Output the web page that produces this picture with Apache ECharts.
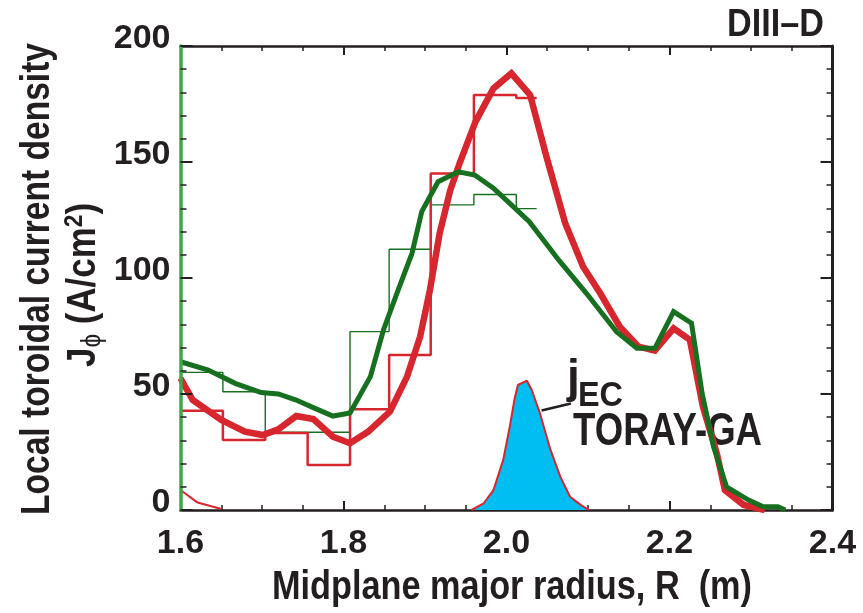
<!DOCTYPE html>
<html>
<head>
<meta charset="utf-8">
<script src="https://cdn.jsdelivr.net/npm/echarts@6/dist/echarts.min.js"></script>
<style>
  html, body { margin: 0; padding: 0; background: #fff; }
  #chart { width: 863px; height: 613px; }
</style>
</head>
<body>
<div id="chart"></div>
<script>
// Midplane major radius R (m) and local toroidal current density (A/cm^2)

// Thick red profile
const redR = [1.600, 1.615, 1.650, 1.679, 1.701, 1.720, 1.742, 1.763, 1.787, 1.808,
  1.830, 1.857, 1.878, 1.894, 1.906, 1.918, 1.931, 1.943, 1.962, 1.984,
  2.006, 2.029, 2.049, 2.072, 2.094, 2.115, 2.139, 2.162, 2.182, 2.205,
  2.225, 2.241, 2.258, 2.268, 2.291, 2.317];
const redJ = [56.8, 47.4, 38.8, 33.8, 32.3, 34.8, 40.5, 39.2, 31.6, 28.8,
  33.7, 42.4, 57.5, 74.7, 94.8, 119.3, 137.9, 150.0, 167.4, 181.7,
  188.2, 178.9, 152.3, 123.6, 104.9, 93.4, 79.0, 70.4, 68.7, 78.3,
  73.3, 44.5, 24.4, 8.6, 2.2, 0.0];

// Thick green profile
const greenR = [1.600, 1.634, 1.667, 1.699, 1.720, 1.742, 1.765, 1.787, 1.808, 1.833,
  1.849, 1.867, 1.884, 1.896, 1.916, 1.941, 1.961, 1.984, 2.004, 2.028,
  2.064, 2.098, 2.135, 2.160, 2.182, 2.205, 2.227, 2.240, 2.254, 2.270,
  2.297, 2.315, 2.333, 2.342];
const greenJ = [63.9, 60.3, 54.6, 50.6, 50.0, 47.4, 43.8, 40.5, 41.8, 57.5,
  77.6, 94.8, 110.6, 128.6, 141.5, 145.8, 144.4, 138.7, 132.2, 124.3,
  107.8, 93.4, 76.8, 69.7, 69.7, 85.5, 80.5, 50.3, 27.3, 10.0,
  4.3, 1.4, 1.4, 0.0];

// Binned (histogram) values, shared bin edges
const binEdges = [1.600, 1.652, 1.704, 1.756, 1.808, 1.856, 1.907, 1.960, 2.012, 2.037];
const redBins = [42.8, 30.2, 33.2, 19.4, 43.4, 66.8, 145.0, 178.9, 177.6];
const greenBins = [59.3, 51.0, 33.5, 33.5, 76.9, 112.4, 131.5, 136.0, 129.9];

// j_EC deposition profile (TORAY-GA)
const ecR = [1.957, 1.972, 1.984, 1.996, 2.004, 2.010, 2.014, 2.025, 2.031, 2.041,
  2.054, 2.066, 2.078, 2.091, 2.101];
const ecJ = [0.0, 2.9, 8.6, 21.6, 35.9, 48.1, 53.9, 55.7, 51.7, 41.7,
  25.9, 14.4, 5.7, 2.2, 0.0];

// Edge trace near the inner boundary
const edgeR = [1.600, 1.621, 1.650];
const edgeJ = [8.6, 3.2, 0.4];

// Axis ticks
const xTicks = [1.6, 1.8, 2.0, 2.2, 2.4];
const yTicks = [0, 50, 100, 150, 200];

const RED = '#d7262e';
const GREEN = '#17701f';
const INK = '#231f20';
const FONT = '"Liberation Sans", Arial, sans-serif';

const pairs = (xs, ys) => xs.map((x, i) => [x, ys[i]]);
const steps = (edges, vals) => {
  const out = [];
  vals.forEach((v, i) => { out.push([edges[i], v]); out.push([edges[i + 1], v]); });
  return out;
};

// Horizontal squeeze factor so a bold sans reads like a condensed face of a given length
const measureCtx = document.createElement('canvas').getContext('2d');
function textWidth(parts) {
  return parts.reduce((w, [t, f]) => { measureCtx.font = f; return w + measureCtx.measureText(t).width; }, 0);
}
const squeeze = (parts, len) => len / textWidth(parts);

const chart = echarts.init(document.getElementById('chart'), null, { renderer: 'canvas' });

const axisLabelX = {
  show: true, margin: 17, color: INK, fontSize: 34, fontWeight: 'bold', fontFamily: FONT,
  formatter: v => xTicks.includes(+v.toFixed(1)) ? v.toFixed(1) : ''
};
const axisLabelY = {
  show: true, margin: 10, color: INK, fontSize: 34, fontWeight: 'bold', fontFamily: FONT,
  verticalAlign: 'bottom', lineHeight: 14,
  formatter: v => yTicks.includes(v) ? String(v) : ''
};
const tickSet = (len, minorLen, split) => ({
  axisTick: { show: true, inside: true, length: len, lineStyle: { color: INK, width: 2 } },
  minorTick: { show: true, splitNumber: split, length: minorLen, lineStyle: { color: INK, width: 1.5 } },
  splitLine: { show: false }
});

const F_NAME = 'bold 40px ' + FONT;
const xName = 'Midplane major radius, R  (m)';
const yName = 'Local toroidal current density';
const jParts = [['J', 'bold 40px ' + FONT], ['\u03d5', '28px ' + FONT], [' (A/cm', 'bold 40px ' + FONT], ['2', 'bold 26px ' + FONT], [')', 'bold 40px ' + FONT]];

chart.setOption({
  animation: false,
  backgroundColor: '#fff',
  grid: { left: 180.5, right: 30.5, top: 46, bottom: 103, containLabel: false },
  xAxis: [
    Object.assign({
      type: 'value', min: 1.6, max: 2.4, interval: 0.2, position: 'bottom',
      axisLine: { show: true, onZero: false, lineStyle: { color: INK, width: 2.5 } },
      axisLabel: axisLabelX
    }, tickSet(9, 5, 4)),
    Object.assign({
      type: 'value', min: 1.6, max: 2.4, interval: 0.2, position: 'top',
      axisLine: { show: true, onZero: false, lineStyle: { color: INK, width: 2.5 } },
      axisLabel: { show: false }
    }, tickSet(9, 5, 4))
  ],
  yAxis: [
    Object.assign({
      type: 'value', min: 0, max: 200, interval: 50, position: 'left', z: 6,
      axisLine: { show: true, onZero: false, lineStyle: { color: '#3fa74a', width: 3.5 } },
      axisLabel: axisLabelY
    }, tickSet(12, 6, 5)),
    Object.assign({
      type: 'value', min: 0, max: 200, interval: 50, position: 'right',
      axisLine: { show: true, onZero: false, lineStyle: { color: INK, width: 3 } },
      axisLabel: { show: false }
    }, tickSet(12, 6, 5))
  ],
  series: [
    {
      name: 'jEC', type: 'line', data: pairs(ecR, ecJ), symbol: 'none', z: 2,
      lineStyle: { color: RED, width: 2 },
      areaStyle: { color: '#00bdf2', opacity: 1 }
    },
    {
      name: 'edge', type: 'line', data: pairs(edgeR, edgeJ), symbol: 'none', z: 3,
      lineStyle: { color: RED, width: 2 },
      // pointer from the TORAY-GA label to the deposition profile
      markLine: {
        silent: true, z: 10, symbol: ['none', 'arrow'], symbolSize: [0, 15],
        lineStyle: { color: INK, width: 2.5, type: 'solid', opacity: 1 },
        itemStyle: { color: INK },
        label: { show: false },
        data: [[{ coord: [2.079, 45.9] }, { coord: [2.043, 42.9] }]]
      }
    },
    {
      name: 'green bins', type: 'line', data: steps(binEdges, greenBins), symbol: 'none', z: 3,
      lineStyle: { color: GREEN, width: 1.4 }
    },
    {
      name: 'red bins', type: 'line', data: steps(binEdges, redBins), symbol: 'none', z: 3,
      lineStyle: { color: RED, width: 2.5 }
    },
    {
      name: 'red', type: 'line', data: pairs(redR, redJ), symbol: 'none', z: 4,
      lineStyle: { color: RED, width: 6.5, join: 'miter' }
    },
    {
      name: 'green', type: 'line', data: pairs(greenR, greenJ), symbol: 'none', z: 5,
      lineStyle: { color: GREEN, width: 5, join: 'miter' }
    }
  ],
  graphic: [
    {
      type: 'text', x: 512, y: 588, scaleX: squeeze([[xName, F_NAME]], 480),
      style: { text: xName, align: 'center', verticalAlign: 'middle', fill: INK, font: F_NAME }
    },
    {
      type: 'text', x: 824, y: 26, scaleX: squeeze([['DIII\u2013D', 'bold 38px ' + FONT]], 97),
      style: { text: 'DIII\u2013D', align: 'right', verticalAlign: 'middle', fill: INK, font: 'bold 38px ' + FONT }
    },
    {
      type: 'text', x: 38, y: 279, rotation: Math.PI / 2, scaleX: squeeze([[yName, F_NAME]], 472),
      style: { text: yName, align: 'center', verticalAlign: 'middle', fill: INK, font: F_NAME }
    },
    {
      type: 'text', x: 84, y: 285, rotation: Math.PI / 2, scaleX: squeeze(jParts, 164),
      style: {
        text: '{j|J}{s|\u03d5}{n| (A/cm}{p|2}{n|)}', align: 'center', verticalAlign: 'middle',
        fill: INK,
        rich: {
          j: { fontSize: 40, fontWeight: 'bold', fontFamily: FONT, fill: INK, lineHeight: 44 },
          s: { fontSize: 28, fontFamily: FONT, fill: INK, verticalAlign: 'bottom', lineHeight: 44, padding: [14, 0, 0, 0] },
          n: { fontSize: 40, fontWeight: 'bold', fontFamily: FONT, fill: INK, lineHeight: 44 },
          p: { fontSize: 26, fontWeight: 'bold', fontFamily: FONT, fill: INK, verticalAlign: 'top', lineHeight: 44, padding: [0, 0, 12, 0] }
        }
      }
    },
    {
      type: 'text', x: 567, y: 379,
      style: { text: 'j', align: 'left', verticalAlign: 'middle', fill: INK, font: 'bold 46px ' + FONT }
    },
    {
      type: 'text', x: 578, y: 396, scaleX: squeeze([['EC', 'bold 35px ' + FONT]], 45),
      style: { text: 'EC', align: 'left', verticalAlign: 'middle', fill: INK, font: 'bold 35px ' + FONT }
    },
    {
      type: 'text', x: 573, y: 432, scaleX: squeeze([['TORAY-GA', 'bold 46px ' + FONT]], 189),
      style: { text: 'TORAY-GA', align: 'left', verticalAlign: 'middle', fill: INK, font: 'bold 46px ' + FONT }
    }
  ]
});
</script>
</body>
</html>
